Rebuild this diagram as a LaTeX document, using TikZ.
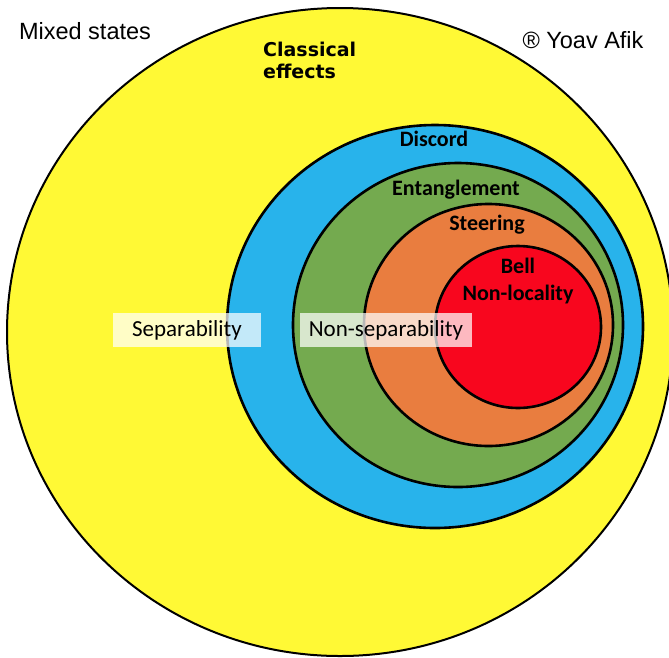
\documentclass[tikz,border=0pt]{standalone}
\usepackage{fontspec}
\setmainfont{Carlito}
\newfontfamily\arialfont{Liberation Sans}
\newfontfamily\dejafont{DejaVu Sans}
\definecolor{cyellow}{HTML}{FFF935}
\definecolor{cblue}{HTML}{28B3EB}
\definecolor{cgreen}{HTML}{74AA4F}
\definecolor{corange}{HTML}{E97D3F}
\definecolor{cred}{HTML}{F8061E}
\tikzset{
  ring/.style={draw=black, line width=2.6pt},
  lab/.style={font=\fontsize{22}{27}\selectfont\bfseries, inner sep=0pt, align=center, anchor=base},
  plain/.style={font=\arialfont\fontsize{23.5}{26}\selectfont, inner sep=0pt, anchor=base},
  tagbox/.style={fill=white, fill opacity=0.72, text opacity=1, font=\fontsize{23}{26}\selectfont, inner sep=0pt, minimum height=34pt}
}
\begin{document}
\begin{tikzpicture}[x=1pt,y=-1pt]
\useasboundingbox (0,0) rectangle (669,657);
\clip (0,0) rectangle (669,657);
\draw[fill=cyellow, draw=black, line width=2pt] (340,332) ellipse [x radius=333, y radius=324];
\draw[ring, fill=cblue]   (435,326.5) ellipse [x radius=208, y radius=201.5];
\draw[ring, fill=cgreen]  (458,325) ellipse [x radius=165, y radius=162];
\draw[ring, fill=corange] (488.5,325) ellipse [x radius=124.5, y radius=121];
\draw[ring, fill=cred]    (518,327) ellipse [x radius=83, y radius=81];

\node[plain] (mixed) at (85,39) {Mixed states};
\node[plain] (author) at (583,48) {® Yoav Afik};
\node[font=\dejafont\bfseries\fontsize{19}{21.3}\selectfont, inner sep=0pt, align=left, anchor=base west] (classical) at (263,78) {Classical\\effects};
\node[lab] (discord) at (434,146) {Discord};
\node[lab] (entangle) at (456,195) {Entanglement};
\node[lab] (steering) at (487,230) {Steering};
\node[lab] (bell) at (518,300) {Bell\\Non-locality};
\node[tagbox, minimum width=148pt] (sep) at (187,330) {Separability};
\node[tagbox, minimum width=172pt] (nonsep) at (386,330) {Non-separability};
\end{tikzpicture}
\end{document}
